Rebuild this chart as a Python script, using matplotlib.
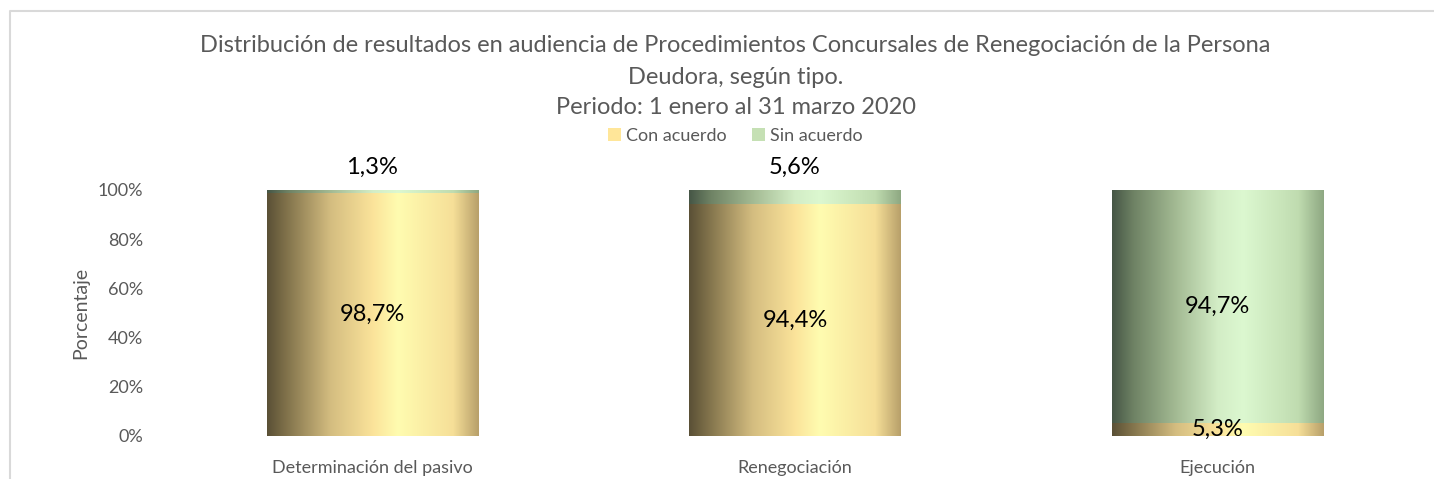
import numpy as np
import matplotlib
matplotlib.use("Agg")
import matplotlib.pyplot as plt
from matplotlib.patches import Patch
from matplotlib.lines import Line2D
from matplotlib.colors import LinearSegmentedColormap

categories = ["Determinación del pasivo", "Renegociación", "Ejecución"]
con_acuerdo = [98.7, 94.4, 5.3]
sin_acuerdo = [1.3, 5.6, 94.7]
series_names = ["Con acuerdo", "Sin acuerdo"]
yticks = [0, 20, 40, 60, 80, 100]
title_lines = ["Distribución de resultados en audiencia de Procedimientos Concursales de Renegociación de la Persona",
               "Deudora, según tipo.",
               "Periodo: 1 enero al 31 marzo 2020"]

plt.rcParams['font.family'] = ['Lato', 'DejaVu Sans']

W, H = 1434, 479
fig = plt.figure(figsize=(W / 100, H / 100), dpi=100)
ax = fig.add_axes([161 / W, 1 - 436 / H, (1429 - 161) / W, (436 - 190) / H])

yellow_stops = [(0.0, "#5a5036"), (0.08, "#7c6e48"), (0.3, "#d4bd80"),
                (0.5, "#fbe39a"), (0.62, "#fffcb0"), (0.88, "#f6df98"), (1.0, "#b8a06a")]
green_stops = [(0.0, "#465646"), (0.1, "#6e8264"), (0.3, "#a3ba93"),
               (0.5, "#d3edc6"), (0.62, "#dcf8d0"), (0.88, "#c0dcb0"), (1.0, "#8ea882")]
cmaps = [LinearSegmentedColormap.from_list("y", yellow_stops),
         LinearSegmentedColormap.from_list("g", green_stops)]
legend_colors = ["#ffe699", "#c5e0b4"]

x = np.arange(len(categories))
grad = np.linspace(0, 1, 256)[None, :]
bottoms = np.zeros(len(categories))
for vals, cmap in zip([con_acuerdo, sin_acuerdo], cmaps):
    bars = ax.bar(x, vals, width=0.5, bottom=bottoms, facecolor="none", edgecolor="none")
    for b in bars:
        x0, y0, w, h = b.get_x(), b.get_y(), b.get_width(), b.get_height()
        im = ax.imshow(grad, cmap=cmap, extent=[x0, x0 + w, y0, y0 + h],
                       aspect="auto", interpolation="bilinear", zorder=2)
        im.set_clip_path(b)
    for xi, v, bt in zip(x, vals, bottoms):
        label = f"{v:.1f}%".replace(".", ",")
        if v < 10 and bt > 50:
            ax.annotate(label, (xi, 100), xytext=(0, 16), textcoords="offset points",
                        ha="center", va="center", fontsize=17, color="black", zorder=5)
        else:
            ax.text(xi, bt + v / 2, label, ha="center", va="center",
                    fontsize=17, color="black", zorder=5)
    bottoms = bottoms + np.array(vals)

ax.set_xlim(-0.5, len(categories) - 0.5)
ax.set_ylim(0, 100)
ax.set_yticks(yticks)
ax.set_yticklabels([f"{t}%" for t in yticks], fontsize=13, color="#595959")
ax.set_xticks(x)
ax.set_xticklabels(categories, fontsize=13, color="#595959")
ax.tick_params(length=0)
ax.tick_params(axis="x", pad=17)
ax.tick_params(axis="y", pad=13)
for s in ax.spines.values():
    s.set_visible(False)
ax.set_ylabel("Porcentaje", fontsize=14, color="#595959", labelpad=6)

for line, ypx in zip(title_lines, [46, 78, 108]):
    fig.text(0.513, 1 - ypx / H, line, ha="center", va="center", fontsize=17,
             color="#595959")

handles = [Patch(facecolor=c, edgecolor="none") for c in legend_colors]
fig.legend(handles, series_names, loc="center", bbox_to_anchor=(0.513, 1 - 136 / H),
           ncol=2, frameon=False, fontsize=13, labelcolor="#595959",
           handlelength=0.7, handleheight=0.7, handletextpad=0.3, columnspacing=1.4)

bc = "#d9d9d9"
fig.add_artist(Line2D([10 / W, 10 / W, 1], [0, 1 - 11 / H, 1 - 11 / H],
                      transform=fig.transFigure, color=bc, linewidth=1.5))

fig.savefig("out.png", dpi=100)
